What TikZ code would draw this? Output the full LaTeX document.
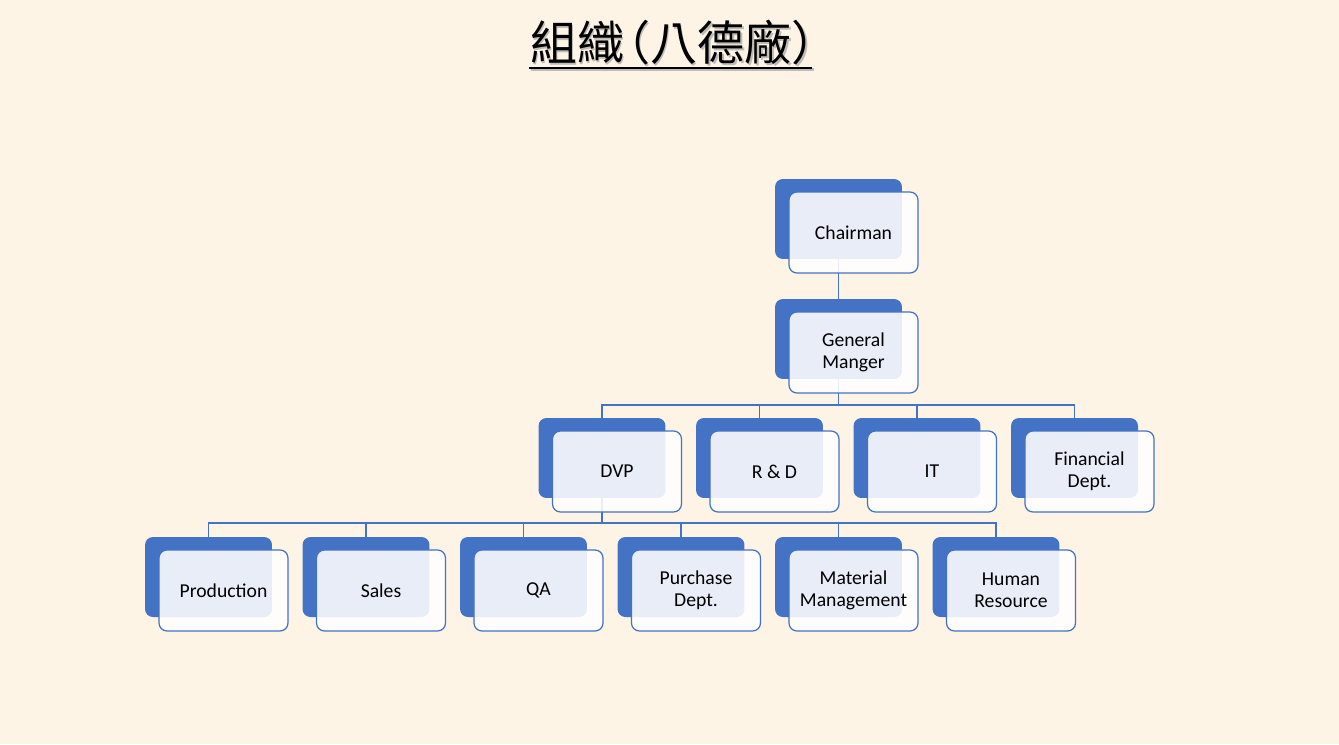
\documentclass[tikz,border=0pt]{standalone}
\usepackage{fontspec}
\setmainfont{Carlito}
\newfontfamily\cjkfont{Noto Sans CJK TC}
\usetikzlibrary{positioning,calc}
\definecolor{bgcream}{RGB}{253,244,230}
\definecolor{cardblue}{RGB}{68,114,196}
\definecolor{shadowgray}{RGB}{150,150,150}

\begin{document}
\begin{tikzpicture}[x=0.02cm, y=-0.02cm,
    back/.style={rectangle, fill=cardblue, rounded corners=4.5pt,
                 minimum width=2.54cm, minimum height=1.6cm, inner sep=0pt, outer sep=0pt},
    front/.style={rectangle, draw=cardblue, line width=0.7pt, fill=white, fill opacity=0.88,
                  text opacity=1, rounded corners=4.5pt, minimum width=2.58cm, minimum height=1.62cm,
                  inner sep=0pt, outer sep=0pt, align=center, font=\fontsize{11.2}{12.6}\selectfont},
    link/.style={draw=cardblue, line width=0.6pt},
    titlefont/.style={font=\cjkfont\fontsize{26.8}{30}\selectfont, inner sep=0pt, anchor=base west}
]

% Background
\fill[bgcream] (0,0) rectangle (1339,744);
\useasboundingbox (0,0) rectangle (1339,744);

% Title
\node[titlefont, text=shadowgray, opacity=0.6] (titleshadow) at (531.5,62) {組織\kern-0.45em（八德廠）};
\node[titlefont] (title) at (530,60.5) {組織\kern-0.45em（八德廠）};
\draw[shadowgray, opacity=0.6, line width=1.4pt] (530.5,69.5) -- (813.5,69.5);
\draw[black, line width=1.4pt] (529,68) -- (812,68);

% Back cards
\node[back] (chairB) at (838.5,219) {};
\node[back] (gmB) at (838.5,339) {};
\node[back] (dvpB) at (602,458) {};
\node[back] (rdB) at (759.5,458) {};
\node[back] (itB) at (917,458) {};
\node[back] (finB) at (1074.5,458) {};
\node[back] (prodB) at (208.5,577) {};
\node[back] (salesB) at (366,577) {};
\node[back] (qaB) at (523.5,577) {};
\node[back] (purB) at (681,577) {};
\node[back] (matB) at (838.5,577) {};
\node[back] (hrB) at (996,577) {};

% Connections
\draw[link] (chairB.south) -- (gmB.north);
\draw[link] (gmB.south) -- ++(0,26) coordinate (gmbus);
\draw[link] (gmbus) -| (dvpB.north);
\draw[link] (gmbus) -| (rdB.north);
\draw[link] (gmbus) -| (itB.north);
\draw[link] (gmbus) -| (finB.north);
\draw[link] (dvpB.south) -- ++(0,25) coordinate (dvpbus);
\draw[link] (dvpbus) -| (prodB.north);
\draw[link] (dvpbus) -| (salesB.north);
\draw[link] (dvpbus) -| (qaB.north);
\draw[link] (dvpbus) -| (purB.north);
\draw[link] (dvpbus) -| (matB.north);
\draw[link] (dvpbus) -| (hrB.north);

% Front cards
\node[front] (chair) at ($(chairB)+(15,13.5)$) {Chairman};
\node[front] (gm) at ($(gmB)+(15,13.5)$) {General\\Manger};
\node[front] (dvp) at ($(dvpB)+(15,13.5)$) {DVP};
\node[front] (rd) at ($(rdB)+(15,13.5)$) {R \& D};
\node[front] (it) at ($(itB)+(15,13.5)$) {IT};
\node[front] (fin) at ($(finB)+(15,13.5)$) {Financial\\Dept.};
\node[front] (prod) at ($(prodB)+(15,13.5)$) {Production};
\node[front] (sales) at ($(salesB)+(15,13.5)$) {Sales};
\node[front] (qa) at ($(qaB)+(15,13.5)$) {QA};
\node[front] (pur) at ($(purB)+(15,13.5)$) {Purchase\\Dept.};
\node[front] (mat) at ($(matB)+(15,13.5)$) {Material\\Management};
\node[front] (hr) at ($(hrB)+(15,13.5)$) {Human\\Resource};

\end{tikzpicture}
\end{document}
